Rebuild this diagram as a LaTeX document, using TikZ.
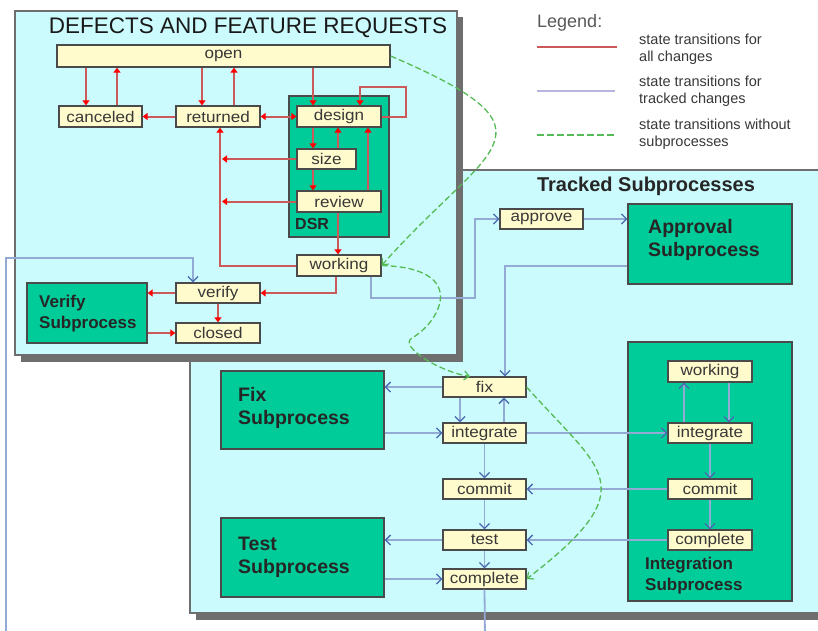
\documentclass[tikz,border=0pt]{standalone}
\usepackage{fontspec}
\setmainfont{Liberation Sans}
\newfontfamily\wfont[FakeStretch=1.1]{Liberation Sans}
\usetikzlibrary{arrows.meta}
\definecolor{bgcyan}{HTML}{CCFBFD}
\definecolor{subgreen}{HTML}{00CC99}
\definecolor{styellow}{HTML}{FFFBCC}
\definecolor{edgegrey}{HTML}{4A4A4A}
\definecolor{framegrey}{HTML}{6E6E6E}
\definecolor{redline}{HTML}{CC5A5A}
\definecolor{redtip}{HTML}{FF0000}
\definecolor{blueline}{HTML}{93AAD4}
\definecolor{bluetip}{HTML}{4A68B0}
\definecolor{greenline}{HTML}{55BB55}
\definecolor{txtgrey}{HTML}{383838}
\definecolor{legline}{HTML}{B4B4DC}
\begin{document}
\begin{tikzpicture}[x=1pt,y=-1pt,
  stbox/.style={draw=edgegrey, fill=styellow, line width=1.3pt, inner sep=0pt, text=txtgrey,
    font=\wfont\fontsize{15.5}{18}\selectfont},
  subbox/.style={draw=edgegrey, fill=subgreen, line width=1.3pt, inner sep=0pt},
  sublbl/.style={font=\bfseries\fontsize{17}{21}\selectfont, text=black!85, align=left, inner sep=0pt},
  biglbl/.style={font=\bfseries\fontsize{19.5}{23}\selectfont, text=black!85, align=left, inner sep=0pt},
  redarr/.style={draw=redline, line width=2pt, -{Triangle[length=5pt,width=7pt,color=redtip]}},
  redboth/.style={draw=redline, line width=2pt, {Triangle[length=5pt,width=7pt,color=redtip]}-{Triangle[length=5pt,width=7pt,color=redtip]}},
  bluearr/.style={draw=blueline, line width=1.8pt, -{Straight Barb[length=5pt,width=10pt,line width=1.3pt,color=bluetip]}},
  greenarr/.style={draw=greenline, line width=1.3pt, dash pattern=on 6pt off 3pt, -{Straight Barb[length=5pt,width=9pt,line width=1.2pt,color=greenline]}},
  legtxt/.style={font=\fontsize{14.5}{17}\selectfont, text=txtgrey, align=left, anchor=west, inner sep=0pt}
]
\useasboundingbox (0,0) rectangle (818,630);
\fill[white] (0,0) rectangle (818,630);

% ---------- Tracked Subprocesses frame (behind) ----------
\fill[framegrey] (196,176) rectangle (836,620);
\filldraw[fill=bgcyan, draw=framegrey, line width=1.5pt] (190,170) rectangle (830,613);
\node[font=\bfseries\fontsize{20}{24}\selectfont, text=black!85, inner sep=0pt] (tstitle) at (646,186) {Tracked Subprocesses};

% ---------- Defects frame ----------
\fill[framegrey] (21,17) rectangle (463,362);
\filldraw[fill=bgcyan, draw=framegrey, line width=1.5pt] (15,11) rectangle (457,355);
\node[font=\fontsize{22.5}{25}\selectfont, text=black!90, inner sep=0pt] (dtitle) at (248,28) {DEFECTS AND FEATURE REQUESTS};

% ---------- Legend ----------
\node[font=\fontsize{18}{20}\selectfont, text=black!65, anchor=west, inner sep=0pt] (legend) at (537,23) {Legend:};
\coordinate (lr1) at (537,47); \coordinate (lr2) at (617,47);
\coordinate (lb1) at (537,91); \coordinate (lb2) at (615,91);
\coordinate (lg1) at (537,135); \coordinate (lg2) at (617,135);
\draw[redline, line width=1.5pt] (lr1) -- (lr2);
\draw[legline, line width=1.5pt] (lb1) -- (lb2);
\draw[greenline, line width=1.5pt, dash pattern=on 7pt off 3pt] (lg1) -- (lg2);
\node[legtxt] (leg1) at (639,49.5) {state transitions for\\all changes};
\node[legtxt] (leg2) at (639,91) {state transitions for\\tracked changes};
\node[legtxt] (leg3) at (639,134) {state transitions without\\subprocesses};

% ---------- Defects nodes ----------
\node[stbox, minimum width=333, minimum height=22] (open) at (223.5,56) {open};
\node[stbox, minimum width=83, minimum height=21] (canceled) at (100.5,116.5) {canceled};
\node[stbox, minimum width=84, minimum height=21] (returned) at (218,116.5) {returned};
\node[subbox, minimum width=100, minimum height=141] (dsr) at (339,166.5) {};
\node[font=\bfseries\fontsize{16}{18}\selectfont, text=black!85, anchor=west, inner sep=0pt] (dsrlbl) at (295,224) {DSR};
\node[stbox, minimum width=84, minimum height=21] (design) at (339,116.5) {design};
\node[stbox, minimum width=59, minimum height=20] (size) at (326.5,159) {size};
\node[stbox, minimum width=84, minimum height=21] (review) at (339,201.5) {review};
\node[stbox, minimum width=84, minimum height=21] (working) at (339,265.5) {working};
\node[stbox, minimum width=84, minimum height=20] (verify) at (218,293) {verify};
\node[stbox, minimum width=84, minimum height=20] (closed) at (218,333) {closed};
\node[subbox, minimum width=120, minimum height=60] (verifysub) at (87,313) {};
\node[sublbl, anchor=west] (verifylbl) at (39,313.5) {Verify\\Subprocess};

% ---------- Tracked nodes ----------
\node[stbox, minimum width=83, minimum height=20] (approve) at (541.5,219) {approve};
\node[subbox, minimum width=164, minimum height=80] (approvalsub) at (710,244) {};
\node[biglbl, anchor=west] (approvallbl) at (648,240) {Approval\\Subprocess};
\node[stbox, minimum width=83, minimum height=20] (fix) at (484.5,387) {fix};
\node[stbox, minimum width=83, minimum height=20] (integrate) at (484.5,433) {integrate};
\node[stbox, minimum width=83, minimum height=20] (commit) at (484.5,489) {commit};
\node[stbox, minimum width=83, minimum height=20] (test) at (484.5,540) {test};
\node[stbox, minimum width=83, minimum height=20] (complete) at (484.5,579) {complete};
\node[subbox, minimum width=163, minimum height=78] (fixsub) at (302.5,410) {};
\node[biglbl, anchor=west] (fixlbl) at (238,408) {Fix\\Subprocess};
\node[subbox, minimum width=163, minimum height=79] (testsub) at (302.5,557.5) {};
\node[biglbl, anchor=west] (testlbl) at (238,557) {Test\\Subprocess};
\node[subbox, minimum width=164, minimum height=259] (intsub) at (710,471.5) {};
\node[sublbl, anchor=west] (intlbl) at (645,575.5) {Integration\\Subprocess};
\node[stbox, minimum width=84, minimum height=21] (iworking) at (710,371.5) {working};
\node[stbox, minimum width=84, minimum height=20] (iintegrate) at (710,433) {integrate};
\node[stbox, minimum width=84, minimum height=20] (icommit) at (710,489) {commit};
\node[stbox, minimum width=84, minimum height=20] (icomplete) at (710,540) {complete};

% ---------- red transitions ----------
\draw[redarr] (open.south -| 86,0) -- (canceled.north -| 86,0);
\draw[redarr] (canceled.north -| 117,0) -- (open.south -| 117,0);
\draw[redarr] (open.south -| 202,0) -- (returned.north -| 202,0);
\draw[redarr] (returned.north -| 234,0) -- (open.south -| 234,0);
\draw[redarr] (open.south -| 313,0) -- (design.north -| 313,0);
\draw[redarr] (returned.west) -- (canceled.east);
\draw[redboth] (returned.east) -- (design.west);
\draw[redarr] (design.east) -| (406,87) -| (design.north -| 360,0);
\draw[redarr] (design.south -| 313,0) -- (size.north -| 313,0);
\draw[redarr] (size.north -| 338,0) -- (design.south -| 338,0);
\draw[redarr] (review.north -| 368,0) -- (design.south -| 368,0);
\draw[redarr] (size.south -| 313,0) -- (review.north -| 313,0);
\draw[redarr] (size.west) -- (size.west -| 222,0);
\draw[redarr] (review.west) -- (review.west -| 222,0);
\draw[redarr] (working.west) -| (returned.south -| 220,0);
\draw[redarr] (review.south -| 338,0) -- (working.north -| 338,0);
\draw[redarr] (working.south -| 336,0) |- (verify.east);
\draw[redarr] (verify.west) -- (verifysub.east |- verify.west);
\draw[redarr] (verify.south) -- (closed.north);
\draw[redarr] (verifysub.east |- closed.west) -- (closed.west);

% ---------- blue transitions ----------
\coordinate (bottomturn) at (485,640);
\coordinate (leftturn) at (6,640);
\draw[bluearr] (working.south -| 371,0) |- (475,298) |- (approve.west);
\draw[bluearr] (approve.east) -- (approvalsub.west |- approve.east);
\draw[bluearr] (approvalsub.west |- 0,266) -| (fix.north -| 505,0);
\draw[bluearr] (fix.south -| 460,0) -- (integrate.north -| 460,0);
\draw[bluearr] (integrate.north -| 504,0) -- (fix.south -| 504,0);
\draw[bluearr] (fix.west) -- (fixsub.east |- fix.west);
\draw[bluearr] (fixsub.east |- integrate.west) -- (integrate.west);
\draw[bluearr] (integrate.east) -- (iintegrate.west);
\draw[bluearr] (iintegrate.north -| 684,0) -- (iworking.south -| 684,0);
\draw[bluearr] (iworking.south -| 729,0) -- (iintegrate.north -| 729,0);
\draw[bluearr] (iintegrate.south) -- (icommit.north);
\draw[bluearr] (icommit.south) -- (icomplete.north);
\draw[bluearr] (icommit.west) -- (commit.east);
\draw[bluearr] (icomplete.west) -- (test.east);
\draw[bluearr] (integrate.south) -- (commit.north);
\draw[bluearr] (commit.south) -- (test.north);
\draw[bluearr] (test.south) -- (complete.north);
\draw[bluearr] (test.west) -- (testsub.east |- test.west);
\draw[bluearr] (testsub.east |- complete.west) -- (complete.west);
\draw[bluearr] (complete.south) -- (bottomturn) -- (leftturn) |- (193,258) -- (verify.north -| 193,0);

% ---------- green transitions ----------
\draw[greenarr] (open.east) .. controls (570,133) and (488,145) .. (working.east);
\draw[greenarr] (working.east) .. controls (470,268) and (440,322) .. (412,338)
   .. controls (398,346) and (440,372) .. (fix.north -| 470,0);
\draw[greenarr] (fix.east) .. controls (602,472) and (647,486) .. (complete.east);
\end{tikzpicture}
\end{document}
